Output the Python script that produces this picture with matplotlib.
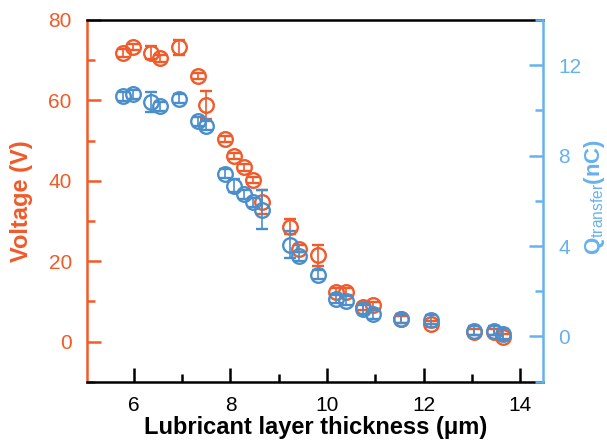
import matplotlib
matplotlib.use('Agg')
import matplotlib.pyplot as plt
from matplotlib.ticker import MultipleLocator

plt.rcParams['font.family'] = ['Liberation Sans', 'DejaVu Sans']
plt.rcParams['mathtext.fontset'] = 'custom'
plt.rcParams['mathtext.rm'] = 'Liberation Sans'
plt.rcParams['mathtext.bf'] = 'Liberation Sans:bold'

# Datos
thickness = [5.78, 5.99, 6.35, 6.55, 6.93, 7.32, 7.50, 7.89, 8.08, 8.27, 8.47, 8.65,
             9.23, 9.43, 9.82, 10.19, 10.39, 10.75, 10.96, 11.53, 12.16, 13.05, 13.45, 13.65]
voltage = [71.8, 73.2, 71.8, 70.5, 73.2, 66.0, 58.9, 50.4, 46.1, 43.3, 40.2, 34.7,
           28.6, 23.1, 21.4, 12.4, 12.4, 8.7, 9.0, 5.5, 4.4, 2.3, 2.3, 1.1]
voltage_err = [0.9, 0.8, 1.6, 0.9, 1.8, 0.8, 3.5, 0.8, 0.8, 0.8, 0.8, 3.1,
               1.9, 0.8, 2.5, 0.8, 0.8, 0.8, 0.8, 0.8, 0.8, 0.8, 0.8, 0.8]
charge = [10.62, 10.72, 10.38, 10.19, 10.51, 9.52, 9.33, 7.19, 6.67, 6.28, 5.93, 5.61,
          4.06, 3.54, 2.73, 1.67, 1.59, 1.21, 0.99, 0.78, 0.74, 0.25, 0.25, 0.11]
charge_err = [0.2, 0.2, 0.45, 0.2, 0.2, 0.2, 0.2, 0.2, 0.3, 0.2, 0.2, 0.85,
              0.6, 0.2, 0.2, 0.2, 0.2, 0.2, 0.2, 0.2, 0.2, 0.2, 0.2, 0.2]

orange = '#F15A29'
blue = '#4A8FCC'
blue_axis = '#66B2EE'

fig = plt.figure(figsize=(6.07, 4.48), dpi=100)
ax = fig.add_axes([0.1435, 0.148, 0.7515, 0.8075])
ax2 = ax.twinx()

ax.errorbar(thickness, voltage, yerr=voltage_err, fmt='o', mfc='none', mec=orange,
            ecolor=orange, ms=10.5, mew=1.7, capsize=4.5, elinewidth=1.2, capthick=1.2)
ax2.errorbar(thickness, charge, yerr=charge_err, fmt='o', mfc='none', mec=blue,
             ecolor=blue, ms=10.5, mew=1.7, capsize=4.5, elinewidth=1.2, capthick=1.2)

ax.set_xlim(5.03, 14.48)
ax.set_ylim(-10, 80)
ax2.set_ylim(-2, 14)

ax.xaxis.set_major_locator(MultipleLocator(2))
ax.xaxis.set_minor_locator(MultipleLocator(1))
ax.yaxis.set_major_locator(MultipleLocator(20))
ax.yaxis.set_minor_locator(MultipleLocator(10))
ax2.yaxis.set_major_locator(MultipleLocator(4))
ax2.yaxis.set_minor_locator(MultipleLocator(2))

# Ejes y colores
for s in ['top', 'bottom']:
    ax.spines[s].set_color('black')
    ax.spines[s].set_linewidth(1.8)
    ax2.spines[s].set_visible(False)
ax.spines['left'].set_color(orange)
ax.spines['left'].set_linewidth(1.8)
ax.spines['right'].set_visible(False)
ax2.spines['left'].set_visible(False)
ax2.spines['right'].set_color(blue_axis)
ax2.spines['right'].set_linewidth(1.8)

ax.tick_params(axis='x', which='both', direction='in', colors='black', labelsize=15,
               top=False, pad=10)
ax.tick_params(axis='x', which='major', length=10, width=1.8)
ax.tick_params(axis='x', which='minor', length=6, width=1.8)
ax.tick_params(axis='y', which='both', direction='in', colors=orange, labelsize=15, pad=11)
ax.tick_params(axis='y', which='major', length=10, width=1.8)
ax.tick_params(axis='y', which='minor', length=6, width=1.8)
ax2.tick_params(axis='y', which='both', direction='in', colors=blue_axis, labelsize=15, pad=11)
ax2.tick_params(axis='y', which='major', length=10, width=1.8)
ax2.tick_params(axis='y', which='minor', length=6, width=1.8)

ax.set_xlabel('Lubricant layer thickness (\u03bcm)', fontsize=17, fontweight='bold', labelpad=1)
ax.set_ylabel('Voltage (V)', fontsize=17, fontweight='bold', color=orange)
ax.yaxis.set_label_coords(-0.118, 0.5)
ax2.set_ylabel(r'$\mathbf{Q}_{\mathrm{transfer}}\mathbf{(nC)}$', fontsize=16,
               color=blue_axis)
ax2.yaxis.set_label_coords(1.084, 0.512)

plt.savefig('out.png', dpi=100)
